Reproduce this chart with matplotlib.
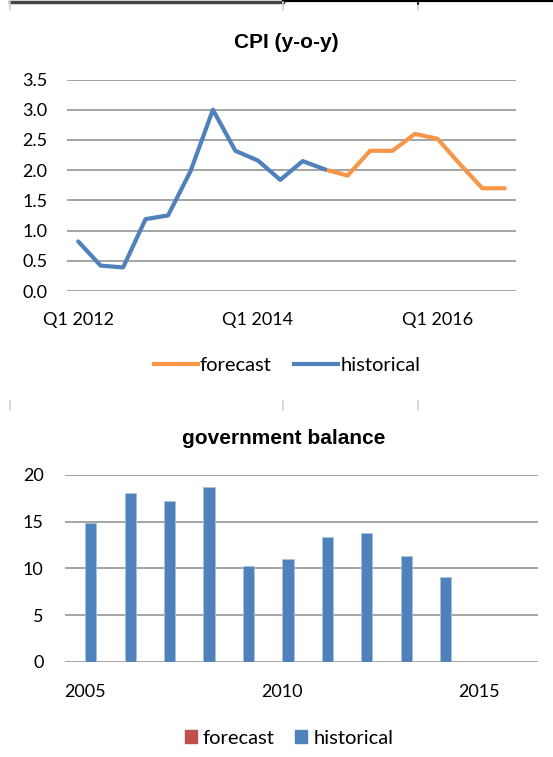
import matplotlib
matplotlib.use("Agg")
import matplotlib.pyplot as plt
import numpy as np
from matplotlib.lines import Line2D
from matplotlib.patches import Patch

# CPI (y-o-y), quarterly Q1 2012 .. Q4 2016
quarters = [f"Q{q} {y}" for y in range(2012, 2017) for q in range(1, 5)]
cpi_hist = [0.82, 0.42, 0.39, 1.19, 1.25, 1.98, 3.0, 2.32, 2.16, 1.84, 2.15, 2.01]
cpi_fcst = [2.01, 1.91, 2.32, 2.32, 2.6, 2.52, 2.1, 1.70, 1.70]
cpi_ticks = ["Q1 2012", "Q1 2014", "Q1 2016"]

# government balance, yearly
years = list(range(2005, 2017))
gov_hist = [14.8, 18.0, 17.2, 18.7, 10.3, 11.0, 13.4, 13.8, 11.35, 9.1, np.nan, np.nan]
gov_fcst = [np.nan] * len(years)
year_ticks = [2005, 2010, 2015]

blue = '#4F81BD'
orange = '#F79646'
red = '#C0504D'
grid_c = '#8C8C8C'
tick_font = 'Lato'

W, H = 553, 757
fig = plt.figure(figsize=(W / 100, H / 100), dpi=100)


def fx(px):
    return px / W


def fy(py):
    return 1 - py / H


def style_axes(ax):
    for s in ax.spines.values():
        s.set_visible(False)
    ax.grid(axis='y', color=grid_c, lw=1.1)
    ax.set_axisbelow(True)
    ax.tick_params(length=0, labelsize=13)
    for lab in ax.get_xticklabels() + ax.get_yticklabels():
        lab.set_fontfamily(tick_font)


# top chart: CPI
ax1 = fig.add_axes([fx(67), fy(291), fx(516 - 67), fy(79.5) - fy(291)])
n = len(quarters)
ax1.plot(range(n - len(cpi_fcst), n), cpi_fcst, color=orange, lw=3, solid_capstyle='round')
ax1.plot(range(len(cpi_hist)), cpi_hist, color=blue, lw=3, solid_capstyle='round')
ax1.set_xlim(-0.5, n - 0.5)
ax1.set_ylim(0, 3.5)
ax1.set_yticks(np.arange(0, 3.51, 0.5))
ax1.set_yticklabels([f"{v:.1f}" for v in np.arange(0, 3.51, 0.5)])
ax1.set_xticks([quarters.index(t) for t in cpi_ticks])
ax1.set_xticklabels(cpi_ticks)
ax1.tick_params(axis='x', pad=15)
ax1.tick_params(axis='y', pad=14)
style_axes(ax1)

fig.text(fx(286), fy(43), "CPI (y-o-y)", ha='center', va='center',
         fontsize=15, fontweight='bold', family='Liberation Sans')

h1 = [Line2D([], [], color=orange, lw=3), Line2D([], [], color=blue, lw=3)]
fig.legend(h1, ["forecast", "historical"], loc='center', bbox_to_anchor=(fx(287), fy(365)),
           ncol=2, frameon=False, handlelength=2.2, handletextpad=0.1, columnspacing=1.1,
           prop={'family': tick_font, 'size': 14.5})

# bottom chart: government balance
ax2 = fig.add_axes([fx(65), fy(662), fx(538 - 65), fy(474.7) - fy(662)])
x = np.arange(len(years))
ax2.bar(x - 0.155, gov_fcst, width=0.285, color=red)
ax2.bar(x + 0.155, gov_hist, width=0.285, color=blue, edgecolor='#A9C0DE', lw=0.6)
ax2.set_xlim(-0.5, len(years) - 0.5)
ax2.set_ylim(0, 20)
ax2.set_yticks([0, 5, 10, 15, 20])
ax2.set_xticks([years.index(t) for t in year_ticks])
ax2.set_xticklabels([str(t) for t in year_ticks])
ax2.tick_params(axis='x', pad=16)
ax2.tick_params(axis='y', pad=15.5)
style_axes(ax2)

fig.text(fx(283.5), fy(438), "government balance", ha='center', va='center',
         fontsize=15, fontweight='bold', family='Liberation Sans')

h2 = [Patch(color=red), Patch(color=blue)]
fig.legend(h2, ["forecast", "historical"], loc='center', bbox_to_anchor=(fx(289), fy(738)),
           ncol=2, frameon=False, handlelength=0.6, handleheight=0.6, handletextpad=0.3,
           columnspacing=1.0, prop={'family': tick_font, 'size': 14.5})

# sheet borders / cell marks
fig.add_artist(Line2D([fx(10), fx(282.5)], [fy(1.5), fy(1.5)], color='#444444', lw=2.5))
fig.add_artist(Line2D([fx(282.5), fx(553)], [fy(1.2), fy(1.2)], color='black', lw=1.6))
for px in [10, 282.5, 418]:
    fig.add_artist(Line2D([fx(px), fx(px)], [fy(2), fy(10)], color='#D0D0D0', lw=1.2))
    fig.add_artist(Line2D([fx(px), fx(px)], [fy(400.5), fy(409.5)], color='#D0D0D0', lw=1.2))
fig.add_artist(Line2D([fx(418), fx(418)], [fy(0), fy(4)], color='black', lw=1.2))

fig.savefig("out.png", dpi=100)
